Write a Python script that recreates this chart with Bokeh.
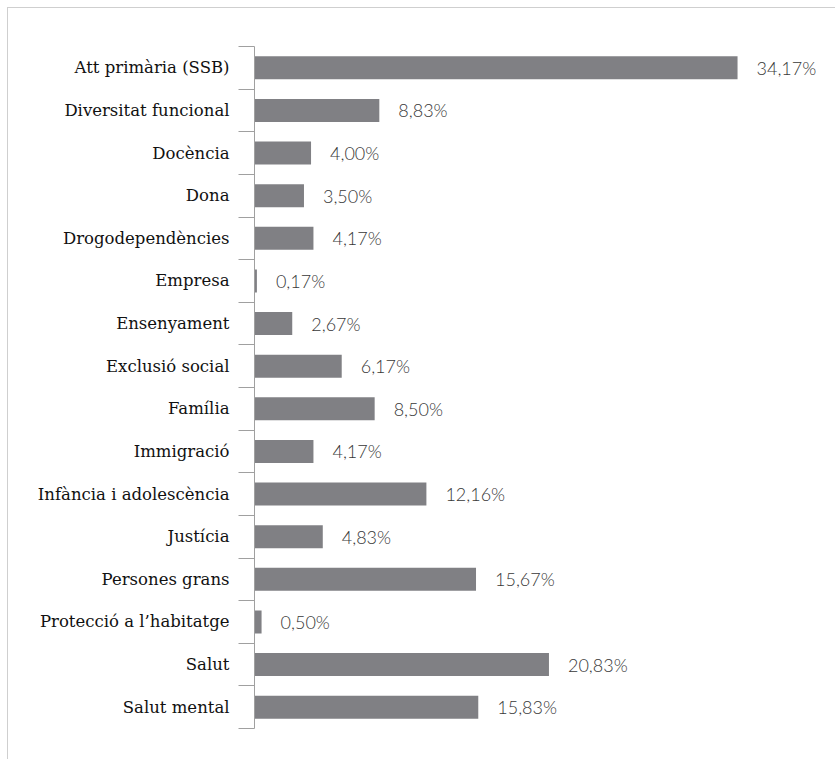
from bokeh.plotting import figure
from bokeh.models import Range1d, FixedTicker, ColumnDataSource
from bokeh.core.properties import value
from bokeh.embed import file_html
from bokeh.resources import INLINE

categories = [
    "Att primària (SSB)", "Diversitat funcional", "Docència", "Dona",
    "Drogodependències", "Empresa", "Ensenyament", "Exclusió social",
    "Família", "Immigració", "Infància i adolescència", "Justícia",
    "Persones grans", "Protecció a l’habitatge", "Salut", "Salut mental",
]
values = [34.17, 8.83, 4.00, 3.50, 4.17, 0.17, 2.67, 6.17,
          8.50, 4.17, 12.16, 4.83, 15.67, 0.50, 20.83, 15.83]

n = len(categories)
idx = list(range(n))
labels = [f"{v:.2f}".replace(".", ",") + "%" for v in values]
src = ColumnDataSource(dict(y=idx, v=values, lab=labels))

p = figure(width=828, height=752, output_backend="svg", toolbar_location=None,
           x_range=Range1d(0, 41.17), y_range=Range1d(n - 0.5, -0.5),
           x_axis_location=None, min_border_left=246, min_border_right=0,
           min_border_top=38, min_border_bottom=32)
p.styles = {"border-top": "1px solid #cfcfcf", "border-left": "1px solid #cfcfcf",
            "margin-left": "7px", "margin-top": "7px"}
p.outline_line_color = None
p.xgrid.visible = False
p.ygrid.visible = False
p.background_fill_color = "white"
p.border_fill_color = "white"

p.hbar(y="y", left=0, right="v", height=0.54, source=src,
       fill_color="#808084", line_color=None)
p.text(x="v", y="y", text="lab", source=src, x_offset=19,
       text_baseline="middle", text_align="left",
       text_font=value("Lato Light, Lato"), text_font_size="18px",
       text_color="#383838")

ax = p.yaxis[0]
ax.ticker = FixedTicker(ticks=idx, minor_ticks=[i - 0.5 for i in range(n + 1)])
ax.major_label_overrides = {i: c for i, c in enumerate(categories)}
ax.major_tick_line_color = None
ax.major_tick_out = 0
ax.major_tick_in = 0
ax.minor_tick_out = 16
ax.minor_tick_in = 0
ax.minor_tick_line_color = "#a0a0a0"
ax.axis_line_color = "#a0a0a0"
ax.major_label_standoff = 9
ax.major_label_text_font = "DejaVu Serif"
ax.major_label_text_font_size = "16.5px"
ax.major_label_text_color = "#111111"

open("out.html", "w").write(file_html(p, INLINE))
